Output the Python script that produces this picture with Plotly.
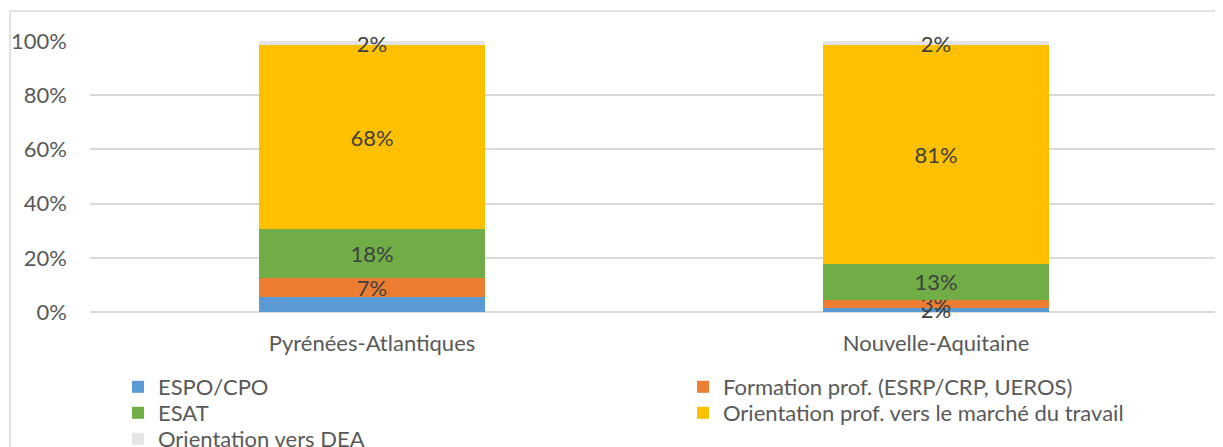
import plotly.graph_objects as go

categories = ["Pyrénées-Atlantiques", "Nouvelle-Aquitaine"]
series_names = [
    "ESPO/CPO",
    "Formation prof. (ESRP/CRP, UEROS)",
    "ESAT",
    "Orientation prof. vers le marché du travail",
    "Orientation vers DEA",
]
espo = [0.055, 0.016]
formation = [0.070, 0.030]
esat = [0.180, 0.130]
marche = [0.679, 0.808]
dea = [0.016, 0.016]
values = [espo, formation, esat, marche, dea]
colors = ["#5B9BD5", "#ED7D31", "#70AD47", "#FFC000", "#E4E4E4"]
label_templates = [
    ["", "%{y:.0%}"],
    ["%{y:.0%}", "%{y:.0%}"],
    ["%{y:.0%}", "%{y:.0%}"],
    ["%{y:.0%}", "%{y:.0%}"],
    ["%{y:.0%}", "%{y:.0%}"],
]
# legend rows (two columns, as in the reference)
legend_ids = ["legend", "legend", "legend2", "legend2", "legend3"]

FONT = "Lato, Calibri, sans-serif"
TXT = "#595959"
FS = 22

fig = go.Figure()
for name, vals, col, tt, lg in zip(series_names, values, colors, label_templates, legend_ids):
    fig.add_trace(go.Bar(
        name=name, x=categories, y=vals,
        marker=dict(color=col, line=dict(width=0)),
        texttemplate=tt, textposition="inside", insidetextanchor="middle",
        textangle=0, cliponaxis=False,
        textfont=dict(family=FONT, size=FS, color="#404040"),
        legend=lg,
    ))

def row_legend(ycen):
    return dict(x=0.0248, y=ycen, xanchor="left", yanchor="middle",
                orientation="h", traceorder="normal",
                entrywidth=520, entrywidthmode="pixels",
                font=dict(family=FONT, size=FS, color=TXT),
                itemwidth=30, bgcolor="rgba(0,0,0,0)")

fig.update_layout(
    barmode="stack",
    bargap=0.6,
    width=1215, height=439,
    margin=dict(l=82, r=5, t=33, b=135, autoexpand=False),
    paper_bgcolor="white", plot_bgcolor="white",
    font=dict(family=FONT, size=FS, color=TXT),
    uniformtext=dict(minsize=FS, mode="show"),
    legend=row_legend(-0.2768),
    legend2=row_legend(-0.3727),
    legend3=row_legend(-0.4686),
    showlegend=True,
)
fig.update_yaxes(
    range=[0, 1], tickformat=".0%", dtick=0.2,
    showgrid=True, gridcolor="#D9D9D9", gridwidth=1.5,
    zeroline=True, zerolinecolor="#D9D9D9", zerolinewidth=1.5,
    showline=False, ticks="", ticklabelstandoff=22,
    tickfont=dict(family=FONT, size=FS, color=TXT),
)
fig.update_xaxes(
    showline=False, ticks="", showgrid=False, ticklabelstandoff=16,
    tickfont=dict(family=FONT, size=FS, color=TXT),
)
# outer chart-area border
fig.add_shape(type="rect", xref="paper", yref="paper",
              x0=-0.0709, x1=1.01, y0=-0.52, y1=1.1107,
              line=dict(color="#D9D9D9", width=1.5), fillcolor="rgba(0,0,0,0)",
              layer="below")

fig.write_html("out.html")
